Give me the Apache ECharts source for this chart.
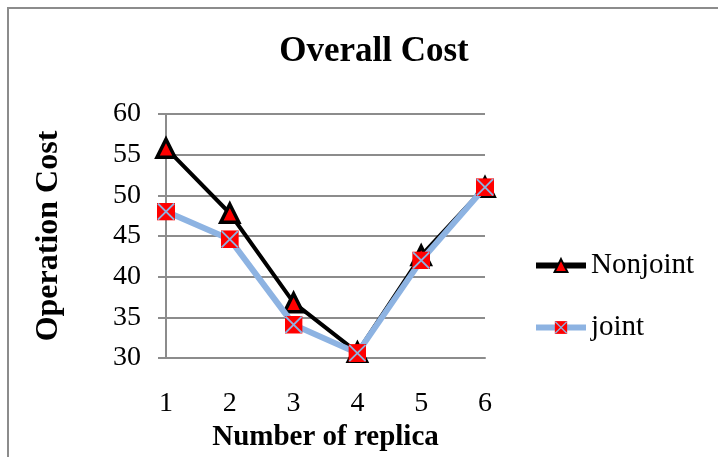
<!DOCTYPE html>
<html><head><meta charset="utf-8">
<script src="https://cdn.jsdelivr.net/npm/echarts@6/dist/echarts.min.js"></script>
<style>html,body{margin:0;padding:0;background:#fff}#c{width:718px;height:457px}</style>
</head><body><div id="c"></div>
<script>
const categories = ['1','2','3','4','5','6'];
const nonjoint = [55.8, 47.8, 36.8, 30.7, 42.6, 51];
const joint = [48, 44.6, 34.1, 30.6, 42, 51];
const seriesNames = ['Nonjoint', 'joint'];

const sq = 'image://data:image/svg+xml;utf8,' + encodeURIComponent(
  '<svg xmlns="http://www.w3.org/2000/svg" width="20" height="20" viewBox="0 0 20 20">' +
  '<rect x="0" y="0" width="20" height="20" fill="#ff0000"/>' +
  '<line x1="1" y1="1" x2="19" y2="19" stroke="#8db3e2" stroke-width="2"/>' +
  '<line x1="19" y1="1" x2="1" y2="19" stroke="#8db3e2" stroke-width="2"/></svg>');

const font = '"Liberation Serif","Times New Roman",serif';
const chart = echarts.init(document.getElementById('c'));
chart.setOption({
  animation: false,
  backgroundColor: '#fff',
  title: {
    text: 'Overall Cost', left: 369, top: 29, textAlign: 'center',
    textStyle: {fontFamily: font, fontSize: 35, fontWeight: 'bold', color: '#000'}
  },
  graphic: [{
    type: 'rect', shape: {x: 8, y: 8, width: 760, height: 500},
    style: {fill: 'none', stroke: '#8c8c8c', lineWidth: 2}, silent: true
  }],
  legend: {
    orient: 'vertical', left: 528, top: 246, itemGap: 33,
    itemWidth: 50, itemHeight: 16,
    textStyle: {fontFamily: font, fontSize: 29, color: '#000'},
    data: [
      {name: seriesNames[0], lineStyle: {width: 6, color: '#000'}},
      {name: seriesNames[1], lineStyle: {width: 6, color: '#8db3e2'}}
    ]
  },
  grid: {left: 166, right: 233, top: 114, bottom: 93},
  xAxis: {
    type: 'category', boundaryGap: false, data: categories,
    name: 'Number of replica', nameLocation: 'middle', nameGap: 65,
    nameTextStyle: {fontFamily: font, fontSize: 29, fontWeight: 'bold', color: '#000'},
    axisLine: {lineStyle: {color: '#8c8c8c', width: 2}},
    axisTick: {show: false},
    axisLabel: {fontFamily: font, fontSize: 28, color: '#000', margin: 32}
  },
  yAxis: {
    type: 'value', min: 30, max: 60, interval: 5,
    name: 'Operation Cost', nameLocation: 'middle', nameGap: 101,
    nameTextStyle: {fontFamily: font, fontSize: 32, fontWeight: 'bold', color: '#000'},
    axisLine: {show: true, lineStyle: {color: '#8c8c8c', width: 2}},
    axisTick: {show: true, length: 8, lineStyle: {color: '#8c8c8c', width: 2}},
    axisLabel: {fontFamily: font, fontSize: 28, color: '#000', margin: 25},
    splitLine: {lineStyle: {color: '#8c8c8c', width: 2}}
  },
  series: [{
    name: seriesNames[0], type: 'line', data: nonjoint,
    lineStyle: {color: '#000', width: 4},
    itemStyle: {color: '#ff0000', borderColor: '#000', borderWidth: 3.5},
    symbol: 'triangle', symbolSize: 18, z: 2
  }, {
    name: seriesNames[1], type: 'line', data: joint,
    lineStyle: {color: '#8db3e2', width: 6},
    itemStyle: {color: '#8db3e2'},
    symbol: sq, symbolSize: 18, z: 3
  }]
});
</script></body></html>
